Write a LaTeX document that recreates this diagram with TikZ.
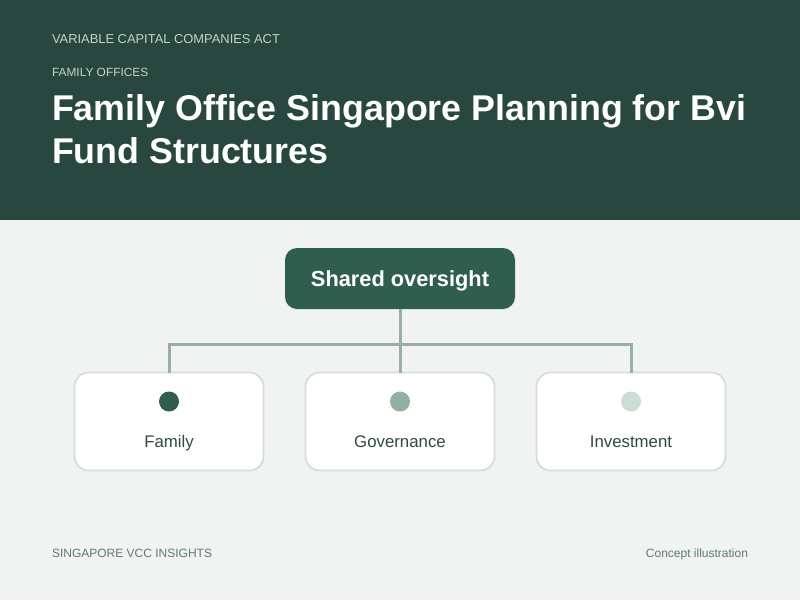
\documentclass[tikz,border=0pt]{standalone}
\usepackage{fontspec}
\setmainfont{Liberation Sans}
\usetikzlibrary{positioning,calc}
\definecolor{headbg}{HTML}{27473F}
\definecolor{pagebg}{HTML}{F1F3F2}
\definecolor{deepgreen}{HTML}{2F5E4E}
\definecolor{midgreen}{HTML}{93AF9F}
\definecolor{palegreen}{HTML}{CCDDD3}
\definecolor{linkgreen}{HTML}{97B0A4}
\definecolor{cardline}{HTML}{D5DDD9}
\definecolor{kickertext}{HTML}{C3D3CB}
\definecolor{labeltext}{HTML}{2E4A40}
\definecolor{foottext}{HTML}{5E7A6E}
\tikzset{
    every node/.style={inner sep=0pt, outer sep=0pt},
    kicker/.style={anchor=base west, text=kickertext, font=\fontsize{12.9}{15}\selectfont},
    headline/.style={anchor=base west, text=white, font=\bfseries\fontsize{35.8}{43}\selectfont},
    rootbox/.style={fill=deepgreen, rounded corners=12pt, minimum width=230pt, minimum height=61pt},
    roottext/.style={anchor=base, text=white, font=\bfseries\fontsize{21.8}{26}\selectfont},
    card/.style={draw=cardline, line width=1.8pt, fill=white, rounded corners=14pt, minimum width=189pt, minimum height=98pt},
    dot/.style={circle, minimum size=20pt},
    cardlabel/.style={anchor=base, text=labeltext, font=\fontsize{16.8}{20}\selectfont},
    link/.style={draw=linkgreen, line width=3pt},
    footer/.style={anchor=base, text=foottext, font=\fontsize{12}{14}\selectfont},
}

\begin{document}
\begin{tikzpicture}[x=1pt, y=-1pt, node distance=42pt]
% page and header band
\fill[pagebg] (0,0) rectangle (800,600);
\fill[headbg] (0,0) rectangle (800,220);
\node[kicker] (act) at (52,43) {VARIABLE CAPITAL COMPANIES ACT};
\node[kicker, font=\fontsize{11.9}{14}\selectfont] (topic) at (52,76) {FAMILY OFFICES};
\node[headline] (title1) at (52,120) {Family Office Singapore Planning for Bvi};
\node[headline] (title2) at (52,163) {Fund Structures};

% root and the three cards
\node[rootbox] (root) at (400,278.5) {};
\node[roottext] (roottxt) at (400,286.5) {Shared oversight};
\node[card] (gov) at (400,421.5) {};
\node[card, left=of gov] (fam) {};
\node[card, right=of gov] (inv) {};
\node[dot, fill=deepgreen] (famdot) at ($(fam.north)+(0,29)$) {};
\node[dot, fill=midgreen] (govdot) at ($(gov.north)+(0,29)$) {};
\node[dot, fill=palegreen] (invdot) at ($(inv.north)+(0,29)$) {};
\node[cardlabel] (famtext) at ($(fam.north)+(0,75)$) {Family};
\node[cardlabel] (govtext) at ($(gov.north)+(0,75)$) {Governance};
\node[cardlabel] (invtext) at ($(inv.north)+(0,75)$) {Investment};

% connectors through the bus line
\coordinate (bus) at (400,344);
\draw[link] (root.south) -- (bus) -| (fam.north);
\draw[link] (bus) -| (inv.north);
\draw[link] (bus) -- (gov.north);

% footer
\node[footer, anchor=base west] (brand) at (52,557) {SINGAPORE VCC INSIGHTS};
\node[footer, anchor=base east] (note) at (748,557) {Concept illustration};
\end{tikzpicture}
\end{document}
